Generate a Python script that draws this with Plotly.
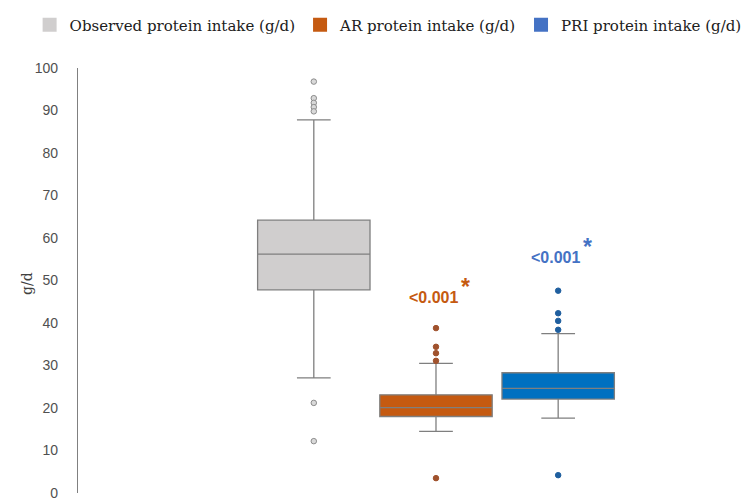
import plotly.graph_objects as go

categories = ["Observed protein intake (g/d)", "AR protein intake (g/d)", "PRI protein intake (g/d)"]
positions = [0, 1, 2]
q1 = [47.8, 18.0, 22.1]
median = [56.2, 20.1, 24.6]
q3 = [64.2, 23.1, 28.3]
lowerfence = [27.1, 14.5, 17.6]
upperfence = [87.8, 30.5, 37.5]
outliers = [
    [96.8, 92.9, 91.8, 90.8, 89.8, 21.2, 12.2],
    [38.8, 34.4, 32.9, 31.1, 3.5],
    [47.6, 42.3, 40.5, 38.4, 4.2],
]
p_labels = ["<0.001", "<0.001"]
p_label_y = [45.9, 55.3]
y_ticks = [0, 10, 20, 30, 40, 50, 60, 70, 80, 90, 100]
y_title = "g/d"

box_fill = ["#d0cece", "#c55a11", "#0070c0"]
legend_col = ["#d0cece", "#c55a11", "#4472c4"]
out_fill = ["#d9d9d9", "#a0522d", "#1f5f9f"]
out_line = ["#8c8c8c", "#a0522d", "#1f5f9f"]
p_col = ["#c55a11", "#4472c4"]

fig = go.Figure()
for i, cat in enumerate(categories):
    fig.add_trace(go.Box(
        x=[positions[i]], q1=[q1[i]], median=[median[i]], q3=[q3[i]],
        lowerfence=[lowerfence[i]], upperfence=[upperfence[i]],
        fillcolor=box_fill[i], line=dict(color="#7f7f7f", width=1.3),
        width=0.92, whiskerwidth=0.3, boxpoints=False, showlegend=False,
        hoverinfo="skip",
    ))
    fig.add_trace(go.Scatter(
        x=[positions[i]] * len(outliers[i]), y=outliers[i], mode="markers",
        marker=dict(size=5.5, color=out_fill[i], line=dict(color=out_line[i], width=1)),
        showlegend=False, hoverinfo="skip",
    ))
for i, cat in enumerate(categories):
    fig.add_trace(go.Scatter(
        x=[None], y=[None], mode="markers", name=cat,
        marker=dict(symbol="square", size=14, color=legend_col[i]),
    ))

for j, lab in enumerate(p_labels):
    xpos = positions[j + 1]
    fig.add_annotation(x=xpos - 0.02, y=p_label_y[j], xref="x", yref="y",
                       text="<b>" + lab.replace("<", "&lt;") + "</b>", showarrow=False,
                       font=dict(family="Liberation Sans", size=16, color=p_col[j]))
    fig.add_annotation(x=xpos + 0.24, y=p_label_y[j] + 2.6, xref="x", yref="y",
                       text="<b>*</b>", showarrow=False,
                       font=dict(family="Liberation Sans", size=23, color=p_col[j]))

fig.add_annotation(x=-0.0759, y=0.494, xref="paper", yref="paper", text=y_title,
                   textangle=-90, showarrow=False, xanchor="center", yanchor="middle",
                   font=dict(family="DejaVu Serif", size=14, color="#404040"))

fig.update_layout(
    width=756, height=501,
    margin=dict(l=70, r=14, t=60, b=16, autoexpand=False),
    plot_bgcolor="white", paper_bgcolor="white",
    boxmode="overlay",
    xaxis=dict(range=[-1.93, 3.57], showticklabels=False, showline=False,
               showgrid=False, zeroline=False, ticks="", automargin=False),
    yaxis=dict(range=[0, 100], tickvals=y_ticks, showline=True, linecolor="#808080",
               linewidth=1.3, showgrid=False, zeroline=False, ticks="",
               ticklabelstandoff=16, automargin=False,
               tickfont=dict(family="Liberation Sans", size=14, color="#505050")),
    legend=dict(orientation="h", xref="paper", x=-0.072, xanchor="left",
                y=1.101, yanchor="middle",
                font=dict(family="DejaVu Serif", size=15, color="#202020"),
                itemwidth=30, tracegroupgap=0, bgcolor="rgba(0,0,0,0)"),
)

fig.write_html("out.html")
